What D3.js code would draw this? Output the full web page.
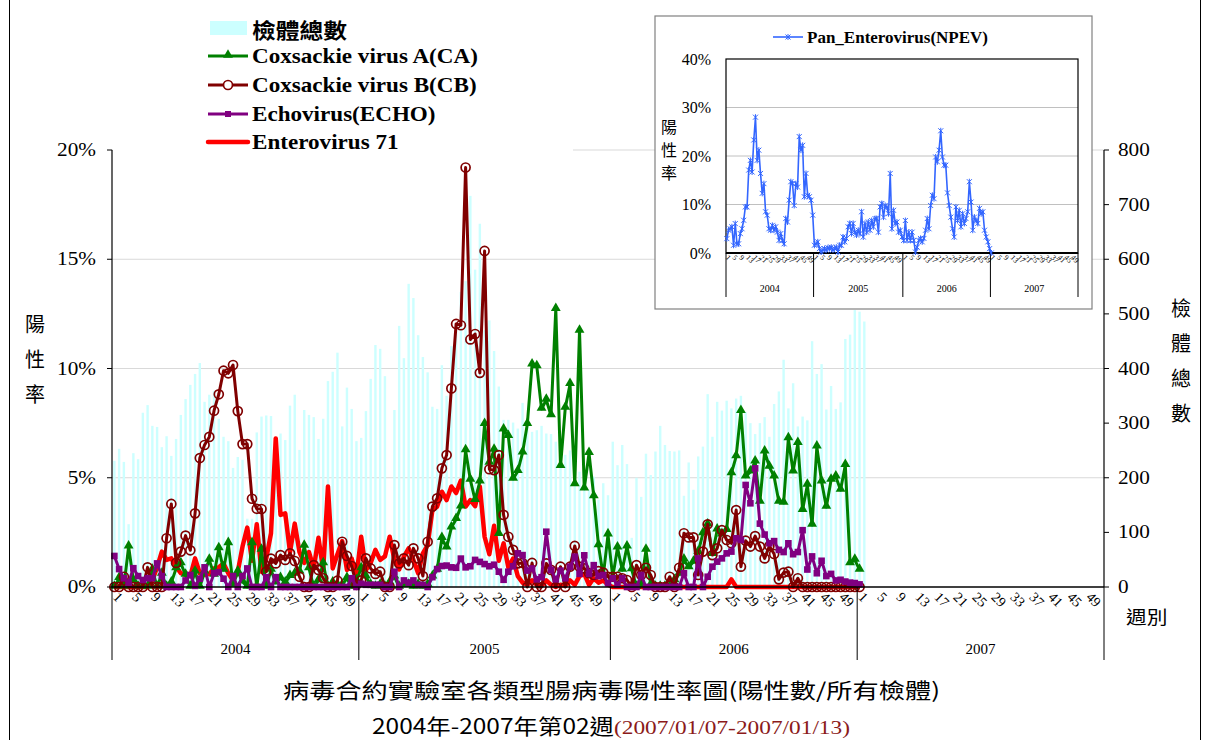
<!DOCTYPE html>
<html><head><meta charset="utf-8">
<script src="https://cdn.jsdelivr.net/npm/d3@7"></script>
<style>body{margin:0;background:#fff}svg{display:block}</style>
</head><body><svg id="c" width="1212" height="740"></svg>
<script>
// ---------- data ----------
const years = ["2004","2005","2006","2007"];
const weeksPerYear = [52,53,52,52];
const tickWeeks = [1,5,9,13,17,21,25,29,33,37,41,45,49];
const pctTicks = [0,5,10,15,20];
const countTicks = [0,100,200,300,400,500,600,700,800];
const insetPctTicks = [0,10,20,30,40];

// 檢體總數 (right axis), 2004w1 .. 2007w2
const specimens = [
231,253,229,115,245,234,319,333,295,293,256,276,240,271,315,344,370,390,410,339,352,359,308,275,267,218,238,233,125,125,283,312,314,313,272,281,269,332,352,251,324,315,311,271,308,377,394,429,294,365,326,267,
273,322,381,443,436,386,60,324,478,419,555,529,461,421,393,330,326,406,350,441,480,540,560,716,581,665,470,488,432,367,306,306,301,290,337,300,284,287,295,281,280,266,256,242,250,220,211,214,178,202,160,190,168,
266,223,260,225,90,200,165,244,205,248,295,260,249,248,250,167,228,178,239,257,353,275,339,323,341,327,345,350,320,300,280,300,311,275,335,358,416,327,373,294,312,305,450,390,408,325,368,326,338,454,462,507,
504,486];

// Coxsackie virus A (%), 2004w1 .. 2007w1
const ca = [
0,0.4,0,1.85,0.3,0,0,0,0.78,0,0.6,0,0.2,0.85,1.08,0.55,0,0.7,0,0.7,1.24,0.55,1.77,0.78,2.0,0.1,0.7,0.25,0,2.0,0,1.7,0,0.78,0.2,0.4,0.2,0.5,0.6,0.7,1.88,0.85,0,0.3,1.08,0,0.2,0.1,0.1,0.4,0,0.3,
0.85,0.47,0.1,0,0.1,0,0.2,0.47,0,0.1,0.1,0,0.1,0,0.1,0.47,0.78,2.23,1.8,2.72,3.1,3.68,6.25,4.9,3.98,4.82,7.45,5.68,6.27,2.42,7.2,6.9,4.95,5.3,6.15,7.45,10.18,10.1,8.15,8.56,7.85,12.72,5.53,8.2,9.28,4.7,11.72,4.5,6.12,4.15,1.9,0.5,2.4,
0.45,1.8,0.78,1.85,0.8,0,0.1,1.7,0.1,0,0,0,0,0.3,0.6,1.25,0.9,1.15,1.6,2.45,2.85,1.5,2.62,2.4,2.6,5.2,5.98,8.05,5.05,5.28,5.74,3.9,6.19,5.5,5.05,3.9,3.85,6.8,5.28,6.58,3.52,4.67,2.84,6.42,4.82,3.66,4.9,5.05,4.44,5.58,1.08,1.24,
0.78];

// Coxsackie virus B (%)
const cb = [
0,0,0.47,0,0,0,0,0.9,0,0,0,2.23,3.8,1.1,1.62,2.35,1.68,3.37,5.9,6.5,6.87,8.07,8.82,9.9,9.78,10.16,8.05,6.54,6.54,4.04,3.58,3.57,0.7,1.3,1.08,1.46,1.24,1.54,1.19,0.47,0,0,1.0,0.78,0.4,0,0,0.29,2.07,1.42,0.96,0.1,
0.3,1.31,0.85,0.6,0.7,0,0,1.92,1.08,1.31,1.0,1.77,1.31,0.5,2.07,3.68,4.06,5.43,6.04,9.09,12.04,11.98,19.2,11.33,11.58,9.8,15.38,5.39,5.35,6.04,3.3,2.3,1.7,1.08,1.1,0,1.1,0,0,1.08,0.78,0,0.93,0,0.93,1.88,0.93,0.85,0.63,0.55,0.73,0.66,0.47,
0.47,0.47,0.4,0.32,0,1.0,0.55,0.88,0.55,0,0,0,0.47,0,0.88,2.46,2.27,2.27,0.55,1.62,2.87,1.46,1.77,2.6,2.15,2.0,3.52,0.93,2.12,1.85,2.33,1.85,1.31,1.88,1.51,0.35,0.66,0.7,0,0.4,0,0,0,0,0,0,0,0,0,0,0,0,
0];

// Echovirus (%)
const echo = [
1.42,0.82,0.4,0.2,0.86,0.5,0.32,0.4,0.4,1.08,0.5,0,0,0,0,0.3,0.55,0.05,0.38,0.9,0,0.63,0.68,0.38,0,0.5,0,0.5,0.85,0,0,0,0.45,0,0.45,0,0,0,0,0,0,0,0,0,0,0,0,0,0,0,0.4,0,
0.15,0.1,0.1,0.1,0.1,0,0,0.7,0,0.3,0.2,0.3,0.1,0.1,0,0.45,0.82,0.96,0.98,0.9,0.88,1.3,0.9,0.95,1.24,1.15,1.05,0.95,1.02,0.7,0.33,0.7,0.95,1.54,1.46,0.75,0.85,0.35,0.45,2.53,0.78,0.35,0.75,0.4,0.93,1.39,0.6,1.45,0.6,1.0,0.5,0.55,0.17,
0.4,0.1,0.4,0,0,0,0.55,0,0,0,0,0,0,0,0,0.63,0,0,1.31,0,0.47,0.93,1.16,1.31,1.54,1.62,2.23,2.15,4.67,3.83,5.43,2.9,2.4,2.0,2.1,1.7,1.6,2.0,1.5,1.6,2.6,0.8,1.4,0.63,1.2,0.5,0.6,0.3,0.33,0.25,0.2,0.18,
0.12];

// Enterovirus 71 (%)
const ev71 = [
0,0,0,0,0,0,0,0,0.3,0.9,1.62,1.24,1.31,0.93,0.63,0.55,0.5,1.31,0.63,0.55,0.6,0.85,0.9,1.08,0.63,0.3,0.7,1.85,2.72,1.2,2.87,0.7,1.3,2.46,6.8,3.3,3.37,1.6,2.9,1.6,1.1,1.6,0.85,2.25,0.78,4.6,0.85,1.5,2.1,0.78,1.3,0.5,
2.3,0.78,1.1,1.7,1.24,1.4,2.3,1.24,0.8,1.39,1.77,1.24,0.63,1.54,1.92,3.52,3.68,4.36,3.98,4.6,4.3,4.87,3.68,3.98,3.7,4.6,2.3,1.5,2.8,1.2,2.0,0.9,1.3,0.5,0.2,0.1,0.3,0.1,0.05,0.3,0.1,0,0.1,0.05,0.3,0.1,0.5,0.6,0.1,0.4,0.2,0.3,0.1,
0,0,0,0,0,0,0,0,0,0,0,0,0,0,0,0,0,0,0,0,0,0,0,0,0,0.35,0,0,0,0,0,0,0,0,0,0,0,0,0,0,0,0,0,0,0,0,0,0,0,0,0,0,
0];

// Pan_Enterovirus (NPEV) (%), inset
const npev = [
2.96,4.7,5.0,5.4,1.6,6.06,1.9,1.9,4.0,5.0,6.75,9.5,9.5,17.1,19.1,16.7,23.3,28,19.1,21.2,16.4,12.3,14.3,8.5,7.8,5.0,4.7,5.7,4.7,5.4,4.3,2.6,4.0,2.6,1.9,7.1,6.4,10.9,14.7,14.3,9.8,14.3,13.6,24,21.2,22.2,11.6,16.4,11.9,11.6,10.9,7.8,
1.6,1.9,2.3,0.9,0.2,0.6,0.9,0.6,1.1,0.9,1.2,0.6,0.9,1.2,0.2,1.6,1.6,3.3,2.3,3.0,5.4,6.1,4.0,6.1,4.3,3.7,4.7,4.0,8.5,3.3,6.1,4.3,6.4,4.7,6.7,5.4,7.1,7.1,4.3,9.5,10.2,7.4,9.8,9.5,8.1,16.4,5.0,8.8,6.1,6.4,4.3,4.7,3.3,
2.6,6.7,2.6,4.3,2.6,4.3,2.6,0.2,1.2,2.6,3.0,2.3,3.0,4.7,7.1,5.0,9.8,11.9,11.2,19.8,18.8,21.2,25.2,19.8,18.1,18.1,12.4,9.8,7.4,5.0,3.3,9.5,6.7,8.8,5.4,8.1,6.1,7.1,8.5,14.7,10.5,4.7,7.4,6.7,6.1,9.2,8.1,8.5,4.7,3.3,2.3,0.9,
0];

const legendNames = ["檢體總數","Coxsackie virus A(CA)","Coxsackie virus B(CB)","Echovirus(ECHO)","Enterovirus 71"];
const titleLine1 = "病毒合約實驗室各類型腸病毒陽性率圖(陽性數/所有檢體)";
const titleLine2a = "2004年-2007年第02週";
const titleLine2b = "(2007/01/07-2007/01/13)";

// ---------- setup ----------
const serif = "'Liberation Serif','Times New Roman',serif";
const cjk = "'Noto Sans CJK TC','Noto Sans CJK SC',sans-serif";
const svg = d3.select("#c");
const nCat = d3.sum(weeksPerYear);
const yearStart = []; {let s=0; weeksPerYear.forEach(n=>{yearStart.push(s); s+=n;});}
function stretch(sel,k){ sel.each(function(){ const w=this.getComputedTextLength(); d3.select(this).attr("textLength",w*k).attr("lengthAdjust","spacingAndGlyphs"); }); return sel; }

// outer frame
svg.append("rect").attr("x",9.5).attr("y",-5).attr("width",1191).attr("height",760)
  .attr("fill","none").attr("stroke","#000").attr("stroke-width",1);

// ---------- main chart ----------
const L=112, R=1104, T=150, B=587;
const x = d3.scaleBand().domain(d3.range(nCat)).range([L,R]);
const bw = x.bandwidth();
const cx = i => x(i)+bw/2;
const yL = d3.scaleLinear().domain([0,20]).range([B,T]);
const yR = d3.scaleLinear().domain([0,800]).range([B,T]);

svg.append("g").selectAll("line").data(pctTicks.filter(d=>d>0)).join("line")
  .attr("x1",L).attr("x2",R).attr("y1",d=>yL(d)).attr("y2",d=>yL(d))
  .attr("stroke","#d9d9d9").attr("stroke-width",1);

svg.append("g").selectAll("rect").data(specimens).join("rect")
  .attr("x",(d,i)=>cx(i)-1.2).attr("width",2.4)
  .attr("y",d=>yR(d)).attr("height",d=>B-yR(d)).attr("fill","#ccffff");

const line = d3.line().x((d,i)=>cx(i)).y(d=>yL(d));

svg.append("path").datum(ev71).attr("d",line).attr("fill","none")
  .attr("stroke","#ff0000").attr("stroke-width",4.5).attr("stroke-linejoin","round");
svg.append("path").datum(ca).attr("d",line).attr("fill","none")
  .attr("stroke","#008000").attr("stroke-width",3).attr("stroke-linejoin","round");
const tri = d3.symbol().type(d3.symbolTriangle).size(42);
svg.append("g").selectAll("path").data(ca).join("path")
  .attr("transform",(d,i)=>`translate(${cx(i)},${yL(d)-1})`).attr("d",tri).attr("fill","#008000");
svg.append("path").datum(cb).attr("d",line).attr("fill","none")
  .attr("stroke","#800000").attr("stroke-width",3).attr("stroke-linejoin","round");
svg.append("g").selectAll("circle").data(cb).join("circle")
  .attr("cx",(d,i)=>cx(i)).attr("cy",d=>yL(d)).attr("r",4.5)
  .attr("fill","none").attr("stroke","#800000").attr("stroke-width",1.7);
svg.append("path").datum(echo).attr("d",line).attr("fill","none")
  .attr("stroke","#800080").attr("stroke-width",3).attr("stroke-linejoin","round");
svg.append("g").selectAll("rect").data(echo).join("rect")
  .attr("x",(d,i)=>cx(i)-3.3).attr("y",d=>yL(d)-3.3).attr("width",6.6).attr("height",6.6)
  .attr("fill","#800080");

const axisG = svg.append("g").attr("stroke","#000");
axisG.append("line").attr("x1",L).attr("x2",L).attr("y1",T).attr("y2",B).attr("stroke-width",1.2);
axisG.append("line").attr("x1",R).attr("x2",R).attr("y1",T).attr("y2",B).attr("stroke-width",1.2);
axisG.append("line").attr("x1",L).attr("x2",R).attr("y1",B).attr("y2",B).attr("stroke-width",1.5);
axisG.selectAll(".lt").data(pctTicks).join("line").attr("x1",L-5).attr("x2",L).attr("y1",d=>yL(d)).attr("y2",d=>yL(d));
axisG.selectAll(".rt").data(countTicks).join("line").attr("x1",R).attr("x2",R+5).attr("y1",d=>yR(d)).attr("y2",d=>yR(d));
const bounds = yearStart.map(s=>x(s)).concat([R]);
axisG.selectAll(".ys").data(bounds).join("line").attr("x1",d=>d).attr("x2",d=>d)
  .attr("y1",B).attr("y2",660).attr("stroke-width",1);

stretch(svg.append("g").selectAll("text").data(pctTicks).join("text")
  .attr("x",96).attr("y",d=>yL(d)+6).attr("text-anchor","end")
  .attr("font-family",serif).attr("font-size",18).text(d=>d+"%"),1.18);
stretch(svg.append("g").selectAll("text").data(countTicks).join("text")
  .attr("x",1118).attr("y",d=>yR(d)+6).attr("text-anchor","start")
  .attr("font-family",serif).attr("font-size",18).text(d=>d),1.18);

const wkTicks = [];
years.forEach((y,yi)=>tickWeeks.forEach(w=>wkTicks.push(yearStart[yi]+w-1)));
function wkLabel(i){ let yi=0; while(yi<3 && i>=yearStart[yi+1]) yi++; return i-yearStart[yi]+1; }
svg.append("g").selectAll("text").data(wkTicks).join("text")
  .attr("transform",i=>`translate(${cx(i)-2},${598}) rotate(45)`)
  .attr("font-family",serif).attr("font-size",14).text(i=>wkLabel(i));
svg.append("g").selectAll("text").data(years).join("text")
  .attr("x",(d,i)=>(bounds[i]+bounds[i+1])/2).attr("y",654).attr("text-anchor","middle")
  .attr("font-family",serif).attr("font-size",15).text(d=>d);
stretch(svg.append("text").attr("x",1126).attr("y",624).attr("font-family",cjk).attr("font-size",18).text("週別"),1.15);

svg.append("g").selectAll("text").data(["陽","性","率"]).join("text")
  .attr("x",35).attr("y",(d,i)=>332+i*35).attr("text-anchor","middle")
  .attr("font-family",cjk).attr("font-size",20).text(d=>d);
svg.append("g").selectAll("text").data(["檢","體","總","數"]).join("text")
  .attr("x",1181).attr("y",(d,i)=>316+i*35).attr("text-anchor","middle")
  .attr("font-family",cjk).attr("font-size",20).text(d=>d);

// legend
svg.append("rect").attr("x",113).attr("y",10).attr("width",460).attr("height",143).attr("fill","#fff");
const lg = svg.append("g");
lg.append("rect").attr("x",210).attr("y",21).attr("width",37).attr("height",14).attr("fill","#ccffff");
const lys = [56,85,114,142];
lg.append("line").attr("x1",208).attr("x2",248).attr("y1",lys[0]).attr("y2",lys[0]).attr("stroke","#008000").attr("stroke-width",3);
lg.append("path").attr("transform",`translate(228,${lys[0]-1})`).attr("d",tri).attr("fill","#008000");
lg.append("line").attr("x1",208).attr("x2",248).attr("y1",lys[1]).attr("y2",lys[1]).attr("stroke","#800000").attr("stroke-width",3);
lg.append("circle").attr("cx",228).attr("cy",lys[1]).attr("r",4.5).attr("fill","#fff").attr("stroke","#800000").attr("stroke-width",1.7);
lg.append("line").attr("x1",208).attr("x2",248).attr("y1",lys[2]).attr("y2",lys[2]).attr("stroke","#800080").attr("stroke-width",3);
lg.append("rect").attr("x",225).attr("y",lys[2]-3).attr("width",6).attr("height",6).attr("fill","#800080");
lg.append("line").attr("x1",208).attr("x2",248).attr("y1",lys[3]).attr("y2",lys[3]).attr("stroke","#ff0000").attr("stroke-width",4.5).attr("stroke-linecap","round");
stretch(lg.append("text").attr("x",252).attr("y",38).attr("font-family",cjk).attr("font-weight","bold").attr("font-size",21).text(legendNames[0]),1.13);
stretch(lg.selectAll(".lt").data(legendNames.slice(1)).join("text")
  .attr("x",252).attr("y",(d,i)=>lys[i]+7).attr("font-family",serif).attr("font-weight","bold")
  .attr("font-size",21).text(d=>d),1.1);

// ---------- inset ----------
const iL=726, iR=1078, iT=59, iB=253;
svg.append("rect").attr("x",655).attr("y",16).attr("width",437).attr("height",293)
  .attr("fill","#fff").attr("stroke","#808080").attr("stroke-width",1.2);
const ix = d3.scaleBand().domain(d3.range(nCat)).range([iL,iR]);
const icx = i => ix(i)+ix.bandwidth()/2;
const iy = d3.scaleLinear().domain([0,40]).range([iB,iT]);
svg.append("g").selectAll("line").data(insetPctTicks.filter(d=>d>0&&d<40)).join("line")
  .attr("x1",iL).attr("x2",iR).attr("y1",d=>iy(d)).attr("y2",d=>iy(d)).attr("stroke","#c0c0c0");
svg.append("rect").attr("x",iL).attr("y",iT).attr("width",iR-iL).attr("height",iB-iT)
  .attr("fill","none").attr("stroke","#000").attr("stroke-width",1.2);
svg.append("line").attr("x1",iL).attr("x2",iR).attr("y1",iB).attr("y2",iB).attr("stroke","#000").attr("stroke-width",2);
svg.append("g").selectAll("text").data(insetPctTicks).join("text")
  .attr("x",711).attr("y",d=>iy(d)+5.5).attr("text-anchor","end")
  .attr("font-family",serif).attr("font-size",16).text(d=>d+"%");
const ibounds = yearStart.map(s=>ix(s)).concat([iR]);
svg.append("g").selectAll("line").data(ibounds).join("line")
  .attr("x1",d=>d).attr("x2",d=>d).attr("y1",iB).attr("y2",297).attr("stroke","#000");
svg.append("g").selectAll("text").data(wkTicks).join("text")
  .attr("transform",i=>`translate(${icx(i)-1.5},${258}) rotate(45)`)
  .attr("font-family",serif).attr("font-size",7.5).text(i=>wkLabel(i));
svg.append("g").selectAll("text").data(years).join("text")
  .attr("x",(d,i)=>(ibounds[i]+ibounds[i+1])/2).attr("y",292).attr("text-anchor","middle")
  .attr("font-family",serif).attr("font-size",10).text(d=>d);
svg.append("g").selectAll("text").data(["陽","性","率"]).join("text")
  .attr("x",669).attr("y",(d,i)=>133+i*23).attr("text-anchor","middle")
  .attr("font-family",cjk).attr("font-size",16).text(d=>d);
const iline = d3.line().x((d,i)=>icx(i)).y(d=>iy(d));
svg.append("path").datum(npev).attr("d",iline).attr("fill","none").attr("stroke","#3366ff").attr("stroke-width",1.6);
const star = "M-2.5,-2.5L2.5,2.5M-2.5,2.5L2.5,-2.5M0,-3L0,3";
svg.append("g").selectAll("path").data(npev).join("path")
  .attr("transform",(d,i)=>`translate(${icx(i)},${iy(d)})`).attr("d",star)
  .attr("stroke","#3366ff").attr("stroke-width",1).attr("fill","none");
svg.append("line").attr("x1",773).attr("x2",803).attr("y1",37).attr("y2",37).attr("stroke","#3366ff").attr("stroke-width",1.6);
svg.append("path").attr("transform","translate(788,37)").attr("d",star).attr("stroke","#3366ff").attr("fill","none");
svg.append("text").attr("x",807).attr("y",43).attr("font-family",serif).attr("font-weight","bold")
  .attr("font-size",17).text("Pan_Enterovirus(NPEV)");

// ---------- titles ----------
svg.append("text").attr("x",283).attr("y",698).attr("font-family",cjk).attr("font-size",21)
  .attr("textLength",657).attr("lengthAdjust","spacingAndGlyphs").text(titleLine1);
svg.append("text").attr("x",372).attr("y",734).attr("font-family",cjk).attr("font-size",21)
  .attr("textLength",242).attr("lengthAdjust","spacingAndGlyphs").text(titleLine2a);
svg.append("text").attr("x",614).attr("y",734).attr("font-family",serif).attr("font-size",19)
  .attr("fill","#8b1a1a").attr("textLength",236).attr("lengthAdjust","spacingAndGlyphs").text(titleLine2b);
</script></body></html>
